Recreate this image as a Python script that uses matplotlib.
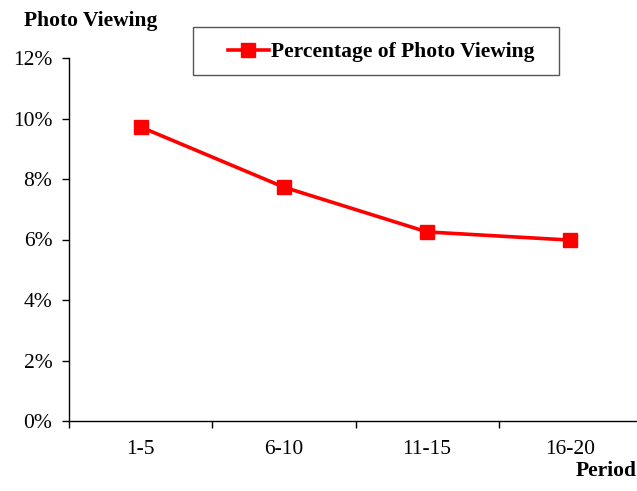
import matplotlib
matplotlib.use("Agg")
import matplotlib.pyplot as plt
from matplotlib.ticker import FuncFormatter, FixedLocator
from matplotlib.patches import Rectangle

periods = ["1-5", "6-10", "11-15", "16-20"]
photo_viewing = [9.72, 7.73, 6.25, 5.98]
series_label = "Percentage of Photo Viewing"
y_ticks = [0, 2, 4, 6, 8, 10, 12]

plt.rcParams['font.family'] = ['Liberation Serif', 'DejaVu Serif']

W, H = 637, 491
fig = plt.figure(figsize=(W / 100, H / 100), dpi=100)
left, right, bottom, top = 69, 642, 421, 58
ax = fig.add_axes([left / W, 1 - bottom / H, (right - left) / W, (bottom - top) / H])

x = list(range(len(periods)))
ax.plot(x, photo_viewing, color='#ff0000', lw=2.6, marker='s', ms=10,
        mec='#ff0000', mfc='#ff0000', label=series_label, clip_on=False)

ax.set_xlim(-0.5, len(periods) - 0.5)
ax.set_ylim(0, 12)
ax.set_yticks(y_ticks)
ax.yaxis.set_major_formatter(FuncFormatter(lambda v, p: f"{int(v)}%"))
ax.set_xticks(x)
ax.set_xticklabels(periods)
ax.xaxis.set_minor_locator(FixedLocator([i - 0.5 for i in range(len(periods) + 1)]))
ax.tick_params(axis='x', which='major', length=0, pad=14, labelsize=15.5)
ax.tick_params(axis='x', which='minor', length=5, width=1, direction='out')
ax.tick_params(axis='y', length=5, width=1, direction='out', pad=7, labelsize=15.5)

for s in ['top', 'right']:
    ax.spines[s].set_visible(False)
for s in ['left', 'bottom']:
    ax.spines[s].set_linewidth(1.0)
    ax.spines[s].set_color('#000000')

fig.text(24 / W, 1 - 21 / H, "Photo Viewing", fontsize=15.5, fontweight='bold',
         va='center', ha='left')
fig.text(637 / W, 1 - 471 / H, "Period", fontsize=15.5, fontweight='bold',
         va='center', ha='right')

# legend frame drawn separately
fig.patches.append(Rectangle((193 / W, 1 - 75 / H), (559 - 193) / W, (75 - 27) / H,
                             transform=fig.transFigure, fill=False,
                             edgecolor='#555555', lw=1.0))
leg = ax.legend(loc='center left',
                bbox_to_anchor=((228 - left) / (right - left), (bottom - 52) / (bottom - top)),
                frameon=False, prop={'weight': 'bold', 'size': 15.5}, handlelength=1.9,
                handletextpad=0.1, borderpad=0, borderaxespad=0)

fig.savefig("out.png", dpi=100)
